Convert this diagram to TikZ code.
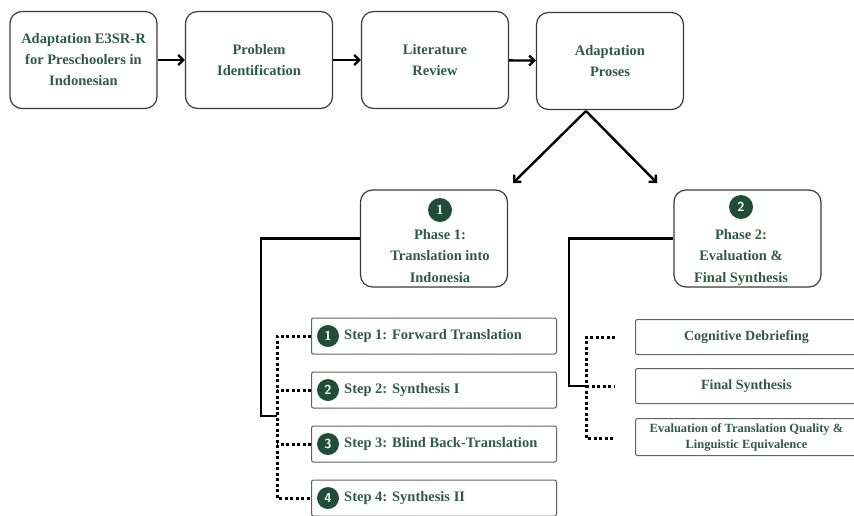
\documentclass[tikz,border=0pt]{standalone}
\usepackage{fontspec}
\setmainfont{Liberation Serif}
\usetikzlibrary{arrows.meta, positioning}

\definecolor{darkgreen}{HTML}{1F4D3A}
\definecolor{textgreen}{HTML}{2F5A46}
\definecolor{boxgrey}{HTML}{3A3A3A}

\begin{document}
\begin{tikzpicture}[x=1pt, y=-1pt,
  procbox/.style={draw=boxgrey, line width=1.2pt, rounded corners=12pt,
    minimum width=147pt, minimum height=97pt, inner sep=0pt,
    align=center, text=textgreen, font=\bfseries\fontsize{14.5}{21}\selectfont},
  stepbox/.style={draw=boxgrey!80, line width=1pt, rounded corners=2pt,
    minimum width=245pt, minimum height=36pt, inner sep=0pt, anchor=west},
  evalbox/.style={stepbox, minimum width=222pt, minimum height=35pt,
    align=center, text=textgreen, font=\bfseries\fontsize{14}{16}\selectfont},
  numdot/.style={circle, fill=darkgreen, text=white, minimum size=22pt, inner sep=0pt,
    font=\sffamily\bfseries\fontsize{13}{13}\selectfont},
  steptext/.style={anchor=west, text=textgreen, inner sep=0pt,
    font=\bfseries\fontsize{14.5}{16}\selectfont},
  phasetext/.style={align=center, text=textgreen, inner sep=0pt,
    font=\bfseries\fontsize{14.5}{21.5}\selectfont},
  flow/.style={line width=2.4pt, -{Straight Barb[length=5pt, width=10pt]}},
  trunk/.style={line width=2.4pt},
  dots/.style={line width=3pt, dash pattern=on 3pt off 2.5pt}
]
\useasboundingbox (0,0) rectangle (854,515);

% Top row
\node[procbox] (adapt) at (83.5,60) {Adaptation E3SR-R\\for Preschoolers in\\Indonesian};
\node[procbox] (prob) at (259,60) {Problem\\Identification};
\node[procbox] (lit) at (435,60) {Literature\\Review};
\node[procbox] (proses) at (610,61) {Adaptation\\Proses};

\draw[flow] (adapt) -- (prob);
\draw[flow] (prob) -- (lit);
\draw[flow] (lit) -- (proses);

% Phase boxes
\node[procbox] (ph1) at (434,238.5) {};
\node[procbox] (ph2) at (747.5,238.5) {};
\node[numdot, minimum size=24pt] (n1) at (440,210) {1};
\node[numdot, minimum size=24pt] (n2) at (741,207) {2};
\node[phasetext, below=7pt of n1] (l1) {Phase 1:\\Translation into\\Indonesia};
\node[phasetext, below=10pt of n2] (l2) {Phase 2:\\Evaluation \&\\Final Synthesis};

\coordinate (split) at (586,111);
\draw[flow] (split) -- (513,183);
\draw[flow] (split) -- (657,183);

% Phase 1 steps
\node[stepbox] (s1) at (311,336) {};
\node[stepbox] (s2) at (311,390) {};
\node[stepbox] (s3) at (311,444) {};
\node[stepbox] (s4) at (311,498) {};
\foreach \i/\txt in {1/Step 1: Forward Translation, 2/Step 2: Synthesis I,
    3/Step 3: Blind Back-Translation, 4/Step 4: Synthesis II} {
  \node[numdot] (d\i) at ([xshift=17pt]s\i.west) {\i};
  \node[steptext] (t\i) at ([xshift=33pt]s\i.west) {\txt};
}

\coordinate (rail1) at (277,416);
\draw[trunk] (ph1.west) -| (261,416) -- (rail1);
\draw[dots] (s1.west) -- (277,336) -- (277,498) -- (s4.west);
\draw[dots] (s2.west) -- (277,390);
\draw[dots] (s3.west) -- (277,444);

% Phase 2 steps
\node[evalbox] (e1) at (635,337) {Cognitive Debriefing};
\node[evalbox] (e2) at (635,386) {Final Synthesis};
\node[evalbox, minimum height=37pt, font=\bfseries\fontsize{12.5}{16}\selectfont] (e3) at (635,437)
  {Evaluation of Translation Quality \&\\Linguistic Equivalence};

\coordinate (rail2) at (586,386);
\draw[trunk] (ph2.west) -| (569,386) -- (rail2);
\draw[dots] (615,337) -- (586,337) -- (586,438) -- (615,438);
\draw[dots] (586,386) -- (615,386);
\end{tikzpicture}
\end{document}
